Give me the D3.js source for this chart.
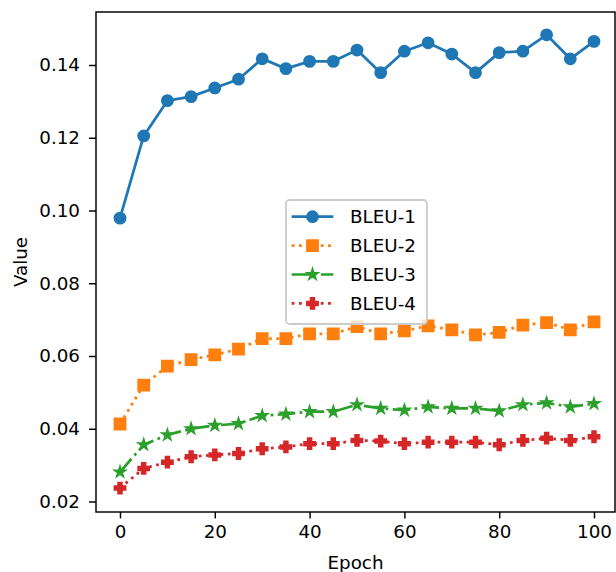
<!DOCTYPE html>
<html><head><meta charset="utf-8">
<script src="https://cdn.jsdelivr.net/npm/d3@7"></script>
<style>body{margin:0;background:#fff;} svg{display:block;font-family:"DejaVu Sans",sans-serif;}</style>
</head><body><svg id="c" width="616" height="572"></svg>
<script>
// ---- data ----
const epochs = [0,5,10,15,20,25,30,35,40,45,50,55,60,65,70,75,80,85,90,95,100];
const bleu1 = [0.0979,0.1205,0.1302,0.1313,0.1337,0.1361,0.1417,0.1390,0.1410,0.1410,0.1441,0.1379,0.1438,0.1461,0.1430,0.1379,0.1434,0.1438,0.1483,0.1417,0.1465];
const bleu2 = [0.0413,0.0520,0.0572,0.0590,0.0603,0.0619,0.0648,0.0648,0.0661,0.0661,0.0681,0.0661,0.0669,0.0683,0.0672,0.0658,0.0665,0.0685,0.0692,0.0672,0.0694];
const bleu3 = [0.0281,0.0356,0.0383,0.0400,0.0409,0.0414,0.0436,0.0440,0.0447,0.0447,0.0466,0.0456,0.0451,0.0460,0.0456,0.0456,0.0449,0.0466,0.0471,0.0460,0.0469];
const bleu4 = [0.0237,0.0291,0.0308,0.0323,0.0328,0.0332,0.0345,0.0350,0.0359,0.0359,0.0368,0.0366,0.0359,0.0363,0.0363,0.0363,0.0356,0.0368,0.0374,0.0368,0.0378];
const seriesNames = ["BLEU-1","BLEU-2","BLEU-3","BLEU-4"];
const seriesColors = ["#1f77b4","#ff7f0e","#2ca02c","#d62728"];
const xTicks = [0,20,40,60,80,100];
const yTicks = [0.02,0.04,0.06,0.08,0.10,0.12,0.14];
const xLabel = "Epoch", yLabel = "Value";

// ---- layout ----
const pt = 1.83;               // px per point
const fs = 18.3;               // font size
const lw = 1.5*pt, ms = 6*pt, mew = 1*pt;
const L = 96, R = 615, T = 12, B = 512;
const x = d3.scaleLinear().domain([0,100]).range([120,594]);
const y = d3.scaleLinear().domain([0.02,0.14]).range([501.5,65]);

const svg = d3.select("#c");
const series = [bleu1,bleu2,bleu3,bleu4];
const dashes = [null, [1*lw,1.65*lw], [6.4*lw,1.6*lw,1*lw,1.6*lw], [1*lw,1.65*lw]];

// marker shapes
function starPath(r){
  const ri = r*0.381966; let p=[];
  for(let i=0;i<10;i++){
    const a = Math.PI/2 + i*Math.PI/5; const rr = i%2?ri:r;
    p.push([rr*Math.cos(a), -rr*Math.sin(a)]);
  }
  return "M"+p.map(d=>d.join(",")).join("L")+"Z";
}
function plusPath(s){
  const u = s/6;
  const pts=[[-1,-3],[1,-3],[1,-1],[3,-1],[3,1],[1,1],[1,3],[-1,3],[-1,1],[-3,1],[-3,-1],[-1,-1]];
  return "M"+pts.map(d=>[d[0]*u,d[1]*u].join(",")).join("L")+"Z";
}
const markerPaths = [
  d3.path(), null, null, null
];
const circ = r => `M${r},0A${r},${r} 0 1,1 ${-r},0A${r},${r} 0 1,1 ${r},0Z`;
const shapes = [circ(ms/2), `M${-ms/2},${-ms/2}H${ms/2}V${ms/2}H${-ms/2}Z`, starPath(ms/2), plusPath(ms)];

const line = d3.line().x((d,i)=>x(epochs[i])).y(d=>y(d));
const plot = svg.append("g");
series.forEach((vals,si)=>{
  const g = plot.append("g");
  g.append("path").attr("d",line(vals)).attr("fill","none")
    .attr("stroke",seriesColors[si]).attr("stroke-width",lw)
    .attr("stroke-dasharray",dashes[si]?dashes[si].join(","):null)
    .attr("stroke-linejoin","round");
  g.selectAll("path.m").data(vals).join("path").attr("class","m")
    .attr("d",shapes[si])
    .attr("transform",(d,i)=>`translate(${x(epochs[i])},${y(d)})`)
    .attr("fill",seriesColors[si]).attr("stroke",seriesColors[si])
    .attr("stroke-width",mew).attr("stroke-linejoin","miter");
});

// frame
svg.append("rect").attr("x",L).attr("y",T).attr("width",R-L).attr("height",B-T)
  .attr("fill","none").attr("stroke","#000").attr("stroke-width",0.8*pt);

// axes
const xAxis = svg.append("g").attr("transform",`translate(0,${B})`)
  .call(d3.axisBottom(x).tickValues(xTicks).tickSize(6.4).tickPadding(7).tickFormat(d3.format("d")));
const yAxis = svg.append("g").attr("transform",`translate(${L},0)`)
  .call(d3.axisLeft(y).tickValues(yTicks).tickSize(7).tickPadding(9).tickFormat(d3.format(".2f")));
[xAxis,yAxis].forEach(a=>{
  a.select(".domain").remove();
  a.selectAll(".tick line").attr("stroke","#000").attr("stroke-width",0.8*pt);
  a.selectAll(".tick text").attr("fill","#000").attr("font-size",fs).attr("font-family","DejaVu Sans");
});

svg.append("text").attr("x",(L+R)/2).attr("y",569).attr("text-anchor","middle")
  .attr("font-size",fs).attr("fill","#000").text(xLabel);
svg.append("text").attr("transform",`translate(27,${(T+B)/2}) rotate(-90)`).attr("text-anchor","middle")
  .attr("font-size",fs).attr("fill","#000").text(yLabel);

// legend
const lg = svg.append("g");
lg.append("rect").attr("x",286).attr("y",200).attr("width",141).attr("height",124)
  .attr("rx",3.5).attr("fill","#fff").attr("fill-opacity",0.8)
  .attr("stroke","#cccccc").attr("stroke-width",pt);
seriesNames.forEach((name,si)=>{
  const cy = 216.7 + si*28.9;
  lg.append("path").attr("d",`M291.7,${cy}H333.3`).attr("fill","none")
    .attr("stroke",seriesColors[si]).attr("stroke-width",lw)
    .attr("stroke-dasharray",dashes[si]?dashes[si].join(","):null);
  lg.append("path").attr("d",shapes[si]).attr("transform",`translate(312.5,${cy})`)
    .attr("fill",seriesColors[si]).attr("stroke",seriesColors[si]).attr("stroke-width",mew);
  lg.append("text").attr("x",350).attr("y",cy).attr("dy","0.36em")
    .attr("font-size",fs).attr("fill","#000").text(name);
});
</script></body></html>
